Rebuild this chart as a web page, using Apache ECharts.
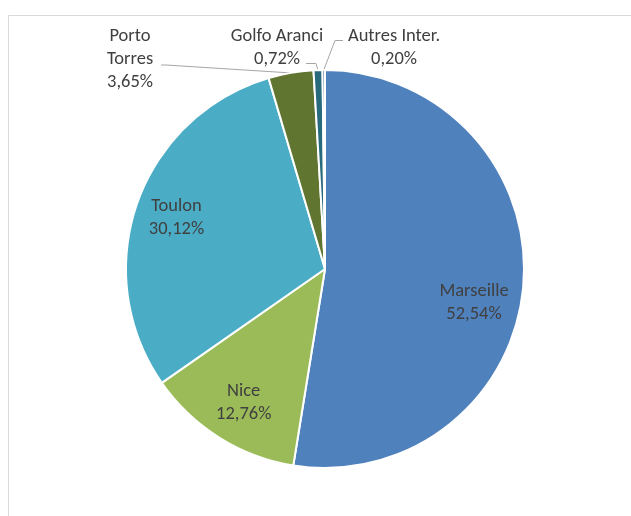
<!DOCTYPE html>
<html>
<head>
<meta charset="utf-8">
<script src="https://cdn.jsdelivr.net/npm/echarts@6/dist/echarts.min.js"></script>
<style>
html,body{margin:0;padding:0;background:#fff;}
#chart{width:631px;height:516px;}
</style>
</head>
<body>
<div id="chart"></div>
<script>
// Data
const categories = ['Marseille', 'Nice', 'Toulon', 'Porto Torres', 'Golfo Aranci', 'Autres Inter.'];
const shares = [52.54, 12.76, 30.12, 3.65, 0.72, 0.20];
const colors = ['#4F81BD', '#9BBB59', '#4BACC6', '#5F7530', '#276A7C', '#2C4D75'];

const labelNames = {
  'Porto Torres': 'Porto\nTorres',
  'Golfo Aranci': 'Golfo Aranci',
  'Autres Inter.': 'Autres Inter.'
};
const insideSet = [0, 1, 2];
const fmt = v => v.toFixed(2).replace('.', ',') + '%';
const FONT = 'Carlito, Calibri, Lato, sans-serif';
const FS = 18.5;
const LH = 23;

const chart = echarts.init(document.getElementById('chart'), null, {renderer: 'canvas'});

const outerData = categories.map((c, i) => ({
  name: c,
  value: shares[i],
  itemStyle: {color: colors[i]},
  label: {show: insideSet.indexOf(i) < 0},
  labelLine: {show: insideSet.indexOf(i) < 0}
}));
const innerData = categories.map((c, i) => ({
  name: c,
  value: shares[i],
  label: {show: insideSet.indexOf(i) >= 0}
}));

// label placements (Excel-like)
const outsidePos = {
  3: {x: 130, y: 59.5, line: (p0) => [p0, [166, 65], [161, 65]]},
  4: {x: 277, y: 47.5, line: (p0) => [p0, [316, 63.5], [306, 63.5]]},
  5: {x: 394, y: 47.5, line: (p0) => [p0, [335, 40.5], [343, 40.5]]}
};
const insideShift = {0: {dx: -9, dy: 21}, 1: {dx: 3, dy: 0}, 2: {dx: 1, dy: 1}};

chart.setOption({
  backgroundColor: '#fff',
  animation: false,
  graphic: [{
    type: 'rect',
    shape: {x: 8.5, y: 15.5, width: 800, height: 700},
    style: {fill: 'none', stroke: '#d9d9d9', lineWidth: 1},
    silent: true
  }],
  series: [
    {
      type: 'pie',
      center: [325, 269],
      radius: 199,
      startAngle: 90,
      clockwise: true,
      silent: true,
      itemStyle: {borderColor: '#fff', borderWidth: 2},
      label: {
        position: 'outside',
        color: '#404040',
        fontFamily: FONT,
        fontSize: FS,
        lineHeight: LH,
        align: 'center',
        formatter: p => (labelNames[p.name] || p.name) + '\n' + fmt(p.value)
      },
      labelLine: {lineStyle: {color: '#a6a6a6', width: 1}},
      labelLayout: function (params) {
        const o = outsidePos[params.dataIndex];
        if (!o) return {};
        const res = {x: o.x, y: o.y, align: 'center', verticalAlign: 'middle'};
        if (params.labelLinePoints) res.labelLinePoints = o.line(params.labelLinePoints[0]);
        return res;
      },
      data: outerData
    },
    {
      type: 'pie',
      center: [325, 269],
      radius: [112, 199],
      startAngle: 90,
      clockwise: true,
      silent: true,
      itemStyle: {color: 'rgba(0,0,0,0)', borderWidth: 0},
      label: {
        position: 'inside',
        color: '#404040',
        fontFamily: FONT,
        fontSize: FS,
        lineHeight: LH,
        align: 'center',
        formatter: p => p.name + '\n' + fmt(p.value)
      },
      labelLine: {show: false},
      labelLayout: function (params) {
        return insideShift[params.dataIndex] || {};
      },
      data: innerData
    }
  ]
});
</script>
</body>
</html>
